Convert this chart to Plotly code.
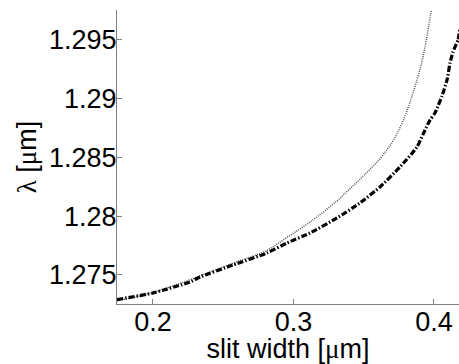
import plotly.graph_objects as go

# dash-dot curve
width_a = [0.1744, 0.2, 0.2263, 0.2335, 0.2569, 0.2811, 0.2954, 0.3117, 0.3310, 0.3473,
           0.3616, 0.3758, 0.3879, 0.3936, 0.3972, 0.4007, 0.4057, 0.4093, 0.4114, 0.4135,
           0.4171, 0.4185]
lam_a = [1.2729, 1.27347, 1.2744, 1.27483, 1.27585, 1.27687, 1.27772, 1.27857, 1.27985, 1.28113,
         1.28249, 1.28419, 1.28589, 1.28734, 1.28819, 1.28879, 1.29023, 1.2916, 1.29304, 1.29398,
         1.2950, 1.2960]

# dotted curve
width_b = [0.1744, 0.2, 0.2569, 0.2811, 0.2954, 0.3117, 0.3310, 0.3381, 0.3495, 0.3616,
           0.3708, 0.3779, 0.3829, 0.3879, 0.3915, 0.3936, 0.3960, 0.3990]
lam_b = [1.2728, 1.2735, 1.2760, 1.2771, 1.2782, 1.2795, 1.2813, 1.2821, 1.2834, 1.2849,
         1.2864, 1.2881, 1.2897, 1.2916, 1.2932, 1.2944, 1.2960, 1.2982]

x_ticks = [0.2, 0.3, 0.4]
x_tick_text = ["0.2", "0.3", "0.4"]
y_ticks = [1.275, 1.28, 1.285, 1.29, 1.295]
y_tick_text = ["1.275", "1.28", "1.285", "1.29", "1.295"]

fig = go.Figure()
fig.add_trace(go.Scatter(x=width_b, y=lam_b, mode="lines",
                         line=dict(color="#555555", width=1.5, dash="1px,1.2px",
                                   shape="spline", smoothing=1.0),
                         showlegend=False))
fig.add_trace(go.Scatter(x=width_a, y=lam_a, mode="lines",
                         line=dict(color="black", width=3.2, dash="6px,2px,1.5px,2px",
                                   shape="spline", smoothing=0.5),
                         showlegend=False))

font = dict(family="Liberation Sans, Arial, sans-serif", size=27, color="black")
fig.update_layout(
    width=459, height=364,
    margin=dict(l=117, r=0, t=10, b=60),
    plot_bgcolor="white", paper_bgcolor="white",
    font=font,
    xaxis=dict(range=[0.1744, 0.4178], tickvals=x_ticks, ticktext=x_tick_text,
               ticks="inside", ticklen=5, tickcolor="#808080", ticklabelstandoff=-6,
               showline=True, linecolor="#808080", linewidth=1,
               showgrid=False, zeroline=False, mirror=False, automargin=False,
               title=dict(text="slit width [<span style='font-family:Liberation Serif'>μ</span>m]",
                          standoff=0, font=font)),
    yaxis=dict(range=[1.27253, 1.29755], tickvals=y_ticks, ticktext=y_tick_text,
               ticks="inside", ticklen=5, tickcolor="#808080", ticklabelstandoff=-6,
               showline=True, linecolor="#808080", linewidth=1,
               showgrid=False, zeroline=False, mirror=False, automargin=False,
               title=dict(text="<span style='font-family:Liberation Serif'>λ</span> [<span style='font-family:Liberation Serif'>μ</span>m]",
                          standoff=4, font=font)),
)
fig.write_html("out.html", config={"displayModeBar": False},
               post_script="document.body.style.margin='0';document.body.style.overflow='hidden';")
